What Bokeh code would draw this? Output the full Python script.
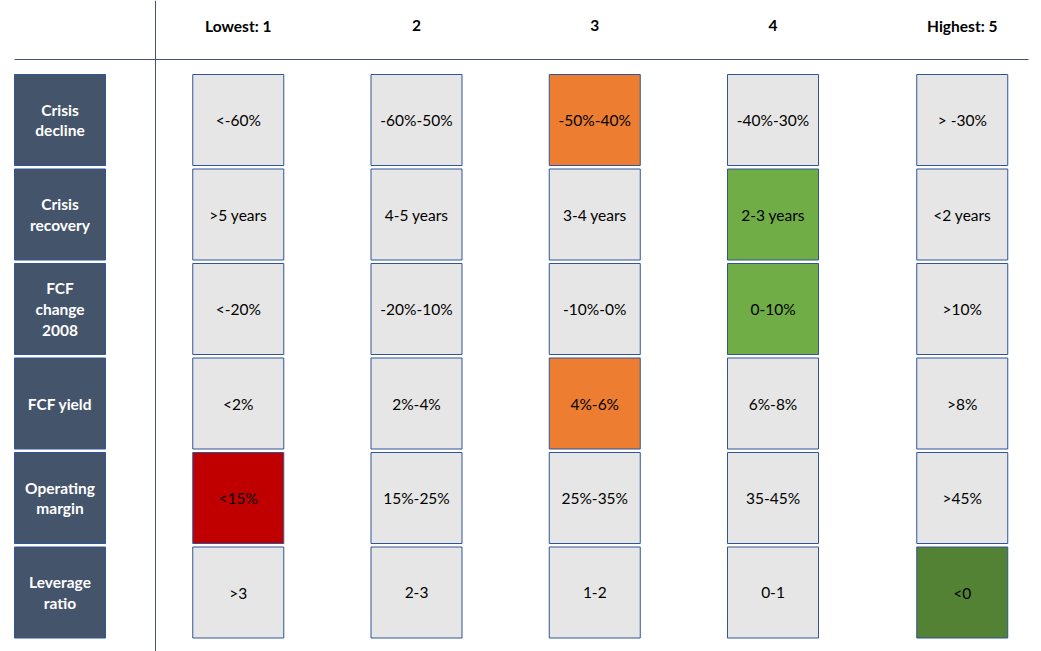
import numpy as np
from bokeh.plotting import figure
from bokeh.models import ColumnDataSource, Span
from bokeh.core.properties import value
from bokeh.embed import file_html
from bokeh.resources import INLINE

# ---- data ----
headers = ["Lowest: 1", "2", "3", "4", "Highest: 5"]
scores = [1, 2, 3, 4, 5]
criteria = ["Crisis\ndecline", "Crisis\nrecovery", "FCF\nchange\n2008",
            "FCF yield", "Operating\nmargin", "Leverage\nratio"]
crisis_decline = ["<-60%", "-60%-50%", "-50%-40%", "-40%-30%", "> -30%"]
crisis_recovery = [">5 years", "4-5 years", "3-4 years", "2-3 years", "<2 years"]
fcf_change_2008 = ["<-20%", "-20%-10%", "-10%-0%", "0-10%", ">10%"]
fcf_yield = ["<2%", "2%-4%", "4%-6%", "6%-8%", ">8%"]
operating_margin = ["<15%", "15%-25%", "25%-35%", "35-45%", ">45%"]
leverage_ratio = [">3", "2-3", "1-2", "0-1", "<0"]
selected_score = [3, 4, 4, 3, 1, 5]

# ---- styles ----
score_colors = {1: "#C00000", 2: "#FFC000", 3: "#ED7D31", 4: "#70AD47", 5: "#548235"}
cell_grey = "#E7E6E6"
border_blue = "#2F5597"
label_fill = "#44546A"
line_col = "#44546A"
FONT = "Lato"

W, H = 1041, 651
col_px = 178.25      # px per column unit
row_px = 94.5        # px per row unit
x0_px = 59.5         # px position of label column
y0_px = 25.0         # px position of header row
x_start = -x0_px / col_px
x_end = x_start + W / col_px
y_end = y0_px / row_px
y_start = y_end - H / row_px

box_w = 91 / col_px
box_h = 91 / row_px

# column positions (last column set slightly apart)
col_x = np.array(scores, dtype=float)
col_x[-1] += 11 / col_px

table = [crisis_decline, crisis_recovery, fcf_change_2008, fcf_yield,
         operating_margin, leverage_ratio]

cx, cy, ctext, cfill = [], [], [], []
for i, row in enumerate(table):
    for j, t in enumerate(row):
        cx.append(col_x[j])
        cy.append(-(i + 1))
        ctext.append(t)
        cfill.append(score_colors[scores[j]] if scores[j] == selected_score[i] else cell_grey)
cells = ColumnDataSource(dict(x=cx, y=cy, text=ctext, fill=cfill))

labels = ColumnDataSource(dict(x=[0] * len(criteria),
                               y=[-(i + 1) for i in range(len(criteria))],
                               text=criteria))
heads = ColumnDataSource(dict(x=col_x, y=[0] * len(headers), text=headers))

p = figure(width=W, height=H, x_range=(x_start, x_end), y_range=(y_start, y_end),
           output_backend="svg", toolbar_location=None, min_border=0)
p.axis.visible = False
p.grid.visible = False
p.outline_line_color = None
p.background_fill_color = "white"

# separator lines
vline_x = x_start + 155 / col_px
p.add_layout(Span(location=vline_x, dimension="height", line_color=line_col, line_width=1))
hline_y = y_end - 59 / row_px
p.segment(x0=[x_start + 14 / col_px], y0=[hline_y], x1=[x_start + 1028 / col_px], y1=[hline_y],
          line_color=line_col, line_width=1)

# label boxes
p.rect("x", "y", width=box_w, height=box_h, source=labels,
       fill_color=label_fill, line_color=border_blue, line_width=1)
p.text("x", "y", text="text", source=labels, text_align="center", text_baseline="middle",
       text_color="white", text_font=value(FONT), text_font_style="bold",
       text_font_size="15.5px", text_line_height=1.15)

# cells
p.rect("x", "y", width=box_w, height=box_h, source=cells,
       fill_color="fill", line_color=border_blue, line_width=1)
p.text("x", "y", text="text", source=cells, text_align="center", text_baseline="middle",
       text_color="black", text_font=value(FONT), text_font_size="15.5px")

# headers
p.text("x", "y", text="text", source=heads, text_align="center", text_baseline="middle",
       text_color="black", text_font=value(FONT), text_font_style="bold",
       text_font_size="15.5px")

open("out.html", "w").write(file_html(p, INLINE))
